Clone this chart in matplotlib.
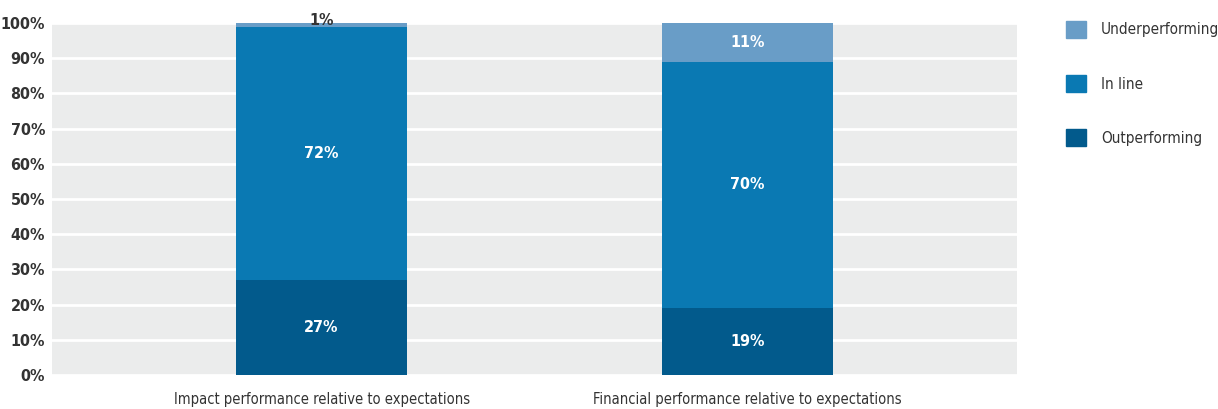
import matplotlib.pyplot as plt
from matplotlib.patches import Patch

categories = ['Impact performance relative to expectations',
              'Financial performance relative to expectations']
outperforming = [27, 19]
in_line = [72, 70]
underperforming = [1, 11]

series = [('Outperforming', outperforming, '#025a8c'),
          ('In line', in_line, '#0a79b3'),
          ('Underperforming', underperforming, '#699dc7')]

plt.rcParams['font.family'] = ['DejaVu Sans']
plt.rcParams['font.stretch'] = 'condensed'

fig = plt.figure(figsize=(12.18, 4.09), dpi=100)
ax = fig.add_axes([52 / 1218, 34 / 409, 965 / 1218, 352 / 409])
ax.set_facecolor('#ebecec')

x = list(range(len(categories)))
bottom = [0] * len(categories)
for name, vals, color in series:
    ax.bar(x, vals, width=0.4, bottom=bottom, color=color, zorder=3)
    for i, v in enumerate(vals):
        if v >= 5:
            ax.text(x[i], bottom[i] + v / 2, f'{v}%', ha='center', va='center',
                    color='white', fontsize=11.5, fontweight='bold', zorder=4)
        else:
            # tiny segment: label sits on top of the bar
            ax.text(x[i], bottom[i] + v + 0.8, f'{v}%', ha='center', va='center',
                    color='#333333', fontsize=11.5, fontweight='bold', zorder=4)
    bottom = [b + v for b, v in zip(bottom, vals)]

ax.set_xlim(-0.633, 1.633)
ax.set_ylim(0, 100)
ax.set_yticks(range(0, 101, 10))
ax.set_yticklabels([f'{t}%' for t in range(0, 101, 10)], fontsize=11.5,
                   fontweight='bold', color='#333333')
ax.set_xticks(x)
ax.set_xticklabels(categories, fontsize=10.5, color='#333333')
ax.tick_params(length=0, axis='y', pad=5)
ax.tick_params(length=0, axis='x', pad=12)
ax.yaxis.grid(True, color='white', linewidth=2, zorder=1)
ax.set_axisbelow(True)
for s in ax.spines.values():
    s.set_visible(False)

handles = [Patch(color=c, label=n) for n, _, c in series[::-1]]
fig.legend(handles=handles, loc='upper left', bbox_to_anchor=(1066 / 1218, 1 - 21 / 409),
           frameon=False, fontsize=11, handlelength=1.3, handleheight=1.3,
           labelspacing=2.45, handletextpad=1.0, borderpad=0, borderaxespad=0,
           labelcolor='#333333')

fig.savefig('out.png', dpi=100)
